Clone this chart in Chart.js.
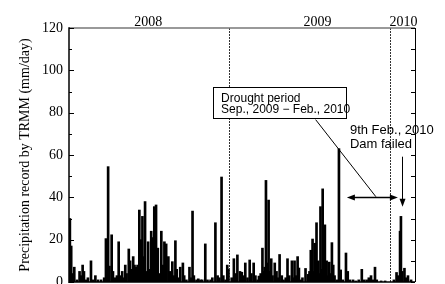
<!DOCTYPE html>
<html><head><meta charset="utf-8">
<script src="https://cdn.jsdelivr.net/npm/chart.js@4.4.0/dist/chart.umd.min.js"></script>
<style>html,body{margin:0;padding:0;background:#fff;overflow:hidden}</style>
</head><body>
<canvas id="c" width="445" height="284" style="display:block;width:445px;height:284px"></canvas>
<script>
// Day number counted from 1 Jan 2008 (day 0)
const rainDay = [
  1,2,5,7,12,18,24,27,31,34,
  39,43,50,55,60,66,73,80,84,89,
  92,97,100,105,109,113,116,121,124,128,
  131,136,139,143,146,149,153,156,160,163,
  167,170,173,177,180,184,187,190,194,198,
  202,205,210,213,217,221,226,230,233,235,
  238,242,245,249,253,259,262,267,274,277,
  281,284,290,294,299,303,310,315,322,326,
  333,338,342,347,351,356,360,363,370,375,
  379,383,389,393,397,401,406,411,415,420,
  424,429,432,436,440,443,445,448,452,454,
  457,460,463,468,472,476,479,484,488,493,
  497,501,507,510,513,516,520,523,527,531,
  538,544,547,550,552,554,557,559,563,567,
  570,572,575,577,579,582,584,586,590,592,
  596,598,601,604,609,614,618,623,630,634,
  639,646,652,659,666,671,677,682,687,691,
  696,700,710,719,739,745,749,753,755,758,
  763,766,771,778
];
// Daily precipitation (mm/day)
const rainMM = [
  6,30,17,4,7,1,5,3,8,5,
  1,2,10,1,3,1,1,2,20.5,54.5,
  7.5,22.3,5,2,3,19,3,5,2,8,
  4,15.6,10,6,12,8,7,8,34,20,
  31,12,38,5,19,6,24,21,35.6,36.4,
  16,4,24,8,19,18,12,5,2,9.6,
  3,19.5,6,2,7,9,3,1,7,2,
  33.5,3,1,1.5,1,1,18,1,1,2,
  28,3,2,49.6,3,1,8,6,2,11,
  4,12.8,5,4.6,3,9,2,10.4,4,9,
  3,1,2.8,4,16,5,7,48,9,38.7,
  5,11,3,9,5,2,13,3,1,2,
  11,3,10,2,10,3,12,6.6,1,2,
  6.4,3.6,5,15,8,20.3,5,18.3,28,10,
  4,35.6,6,44,8,27,5,10,3,9.4,
  4,18.6,8,3,1,63,5.7,1,13.7,5,
  1,1,0.5,1,6,1,1,2,3,1,
  7,1,0.5,0.5,1,4.5,3,24,31,5,
  6.5,2,3,1
];
const yTicks = [0,20,40,60,80,100,120];
const yearLabels = ['2008','2009','2010'];
const yearLabelDay = [180,565,761];
const yearBoundaryDay = [365,731];
const xRange = [0,787];

const SERIF = "'Liberation Serif','Times New Roman',serif";
const SANS = "'Liberation Sans',Arial,sans-serif";

const annot = {
  id:'annot',
  afterDatasetsDraw(chart){
    const {ctx, chartArea:a, scales:{x,y}} = chart;
    const X = d => x.getPixelForValue(d), Y = v => y.getPixelForValue(v);
    const line = (x1,y1,x2,y2)=>{ctx.beginPath();ctx.moveTo(x1,y1);ctx.lineTo(x2,y2);ctx.stroke();};
    ctx.save();
    // year boundaries
    ctx.strokeStyle='#333'; ctx.lineWidth=1; ctx.setLineDash([2,1]);
    yearBoundaryDay.forEach(d=>{const px=Math.round(X(d))+0.5; line(px,a.top,px,a.bottom);});
    ctx.setLineDash([]);
    // frame
    ctx.strokeStyle='#777'; ctx.lineWidth=1.5; line(a.left,a.top,a.right,a.top);
    ctx.strokeStyle='#000'; ctx.lineWidth=1.5; line(a.left,a.top-0.75,a.left,a.bottom+1);
    line(a.left,a.bottom,a.right,a.bottom);
    ctx.lineWidth=1; line(a.right+0.5,a.top,a.right+0.5,a.bottom);
    // ticks (inward)
    for(let v=0; v<=120; v+=10){
      const py=Math.round(Y(v))+0.5;
      const L = v%20===0 ? 5 : 3;
      line(a.left,py,a.left+L,py);
      line(a.right,py,a.right-4,py);
    }
    // year labels
    ctx.fillStyle='#000'; ctx.font='14px '+SERIF; ctx.textAlign='center'; ctx.textBaseline='alphabetic';
    yearLabels.forEach((t,i)=>ctx.fillText(t,X(yearLabelDay[i]),a.top-2));
    // drought box
    const bx1=X(328.5), bx2=X(632), by1=Y(92), by2=Y(77.3);
    ctx.fillStyle='#fff'; ctx.fillRect(bx1,by1,bx2-bx1,by2-by1);
    ctx.strokeStyle='#000'; ctx.lineWidth=1;
    ctx.strokeRect(Math.round(bx1)+0.5,Math.round(by1)+0.5,Math.round(bx2-bx1),Math.round(by2-by1));
    ctx.fillStyle='#000'; ctx.font='12px '+SANS; ctx.textAlign='left';
    ctx.fillText('Drought period',X(346),Y(85.1));
    ctx.fillText('Sep., 2009 \u2212 Feb., 2010',X(346),Y(79.7));
    // pointer line
    line(X(561),Y(76.7),X(698),Y(40.3));
    // double arrow
    const ay=Math.round(Y(40.3))+0.5, ax1=X(632), ax2=X(748);
    ctx.lineWidth=1.5; line(ax1+4,ay,ax2-4,ay);
    const head=(tx,ty,dx,dy)=>{ // tip at tx,ty pointing (dx,dy)
      const len=8, w=3;
      ctx.beginPath(); ctx.moveTo(tx,ty);
      ctx.lineTo(tx-dx*len-dy*w, ty-dy*len+dx*w);
      ctx.lineTo(tx-dx*len+dy*w, ty-dy*len-dx*w);
      ctx.closePath(); ctx.fill();
    };
    head(ax1,ay,-1,0); head(ax2,ay,1,0);
    // dam failure arrow
    const dx=Math.round(X(757))+0.5;
    ctx.lineWidth=1; line(dx,Y(59.2),dx,Y(35.6)-6);
    head(dx,Y(35.6),0,1);
    // text
    ctx.font='13px '+SANS;
    ctx.fillText('9th Feb., 2010',X(639),Y(70.1));
    ctx.fillText('Dam failed',X(639),Y(63.4));
    ctx.restore();
  }
};

new Chart(document.getElementById('c'),{
  type:'bar',
  data:{datasets:[{
    data: rainDay.map((d,i)=>({x:d,y:rainMM[i]})),
    backgroundColor:'#000', borderWidth:0, barThickness:2
  }]},
  options:{
    responsive:false, animation:false, devicePixelRatio:1,
    layout:{padding:{left:0,right:30,top:28,bottom:2}},
    plugins:{legend:{display:false},tooltip:{enabled:false}},
    scales:{
      x:{type:'linear',min:xRange[0],max:xRange[1],offset:false,display:false},
      y:{min:0,max:120,
        afterFit(s){s.width=69; s.paddingTop=0; s.paddingBottom=0;},
        afterBuildTicks(s){s.ticks=yTicks.map(v=>({value:v}));},
        grid:{display:false,drawTicks:false},
        border:{display:false},
        ticks:{padding:6,color:'#000',font:{family:SERIF,size:14}},
        title:{display:true,text:'Precipitation record by TRMM (mm/day)',color:'#000',
          font:{family:SERIF,size:14},padding:{top:17,bottom:0}}
      }
    }
  },
  plugins:[annot]
});
</script>
</body></html>
